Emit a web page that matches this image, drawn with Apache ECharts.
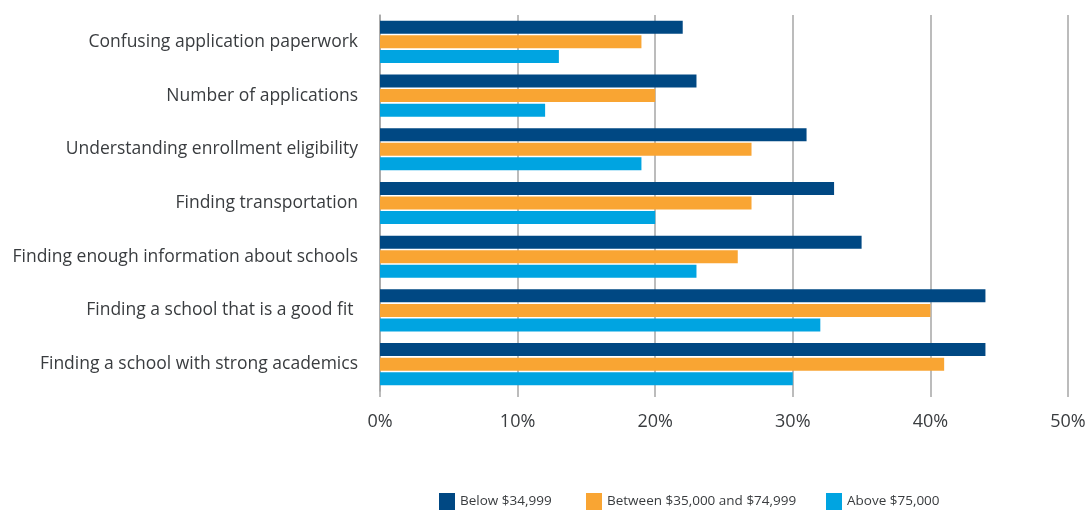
<!DOCTYPE html>
<html>
<head>
<meta charset="utf-8">
<script src="https://cdn.jsdelivr.net/npm/echarts@6/dist/echarts.min.js"></script>
<style>
  html, body { margin: 0; padding: 0; background: #fff; }
  #chart { width: 1091px; height: 510px; }
</style>
</head>
<body>
<div id="chart"></div>
<script>
// Barriers to school enrollment, share of families by household income
const categories = [
  'Confusing application paperwork',
  'Number of applications',
  'Understanding enrollment eligibility',
  'Finding transportation',
  'Finding enough information about schools',
  'Finding a school that is a good fit ',
  'Finding a school with strong academics'
];
const seriesNames = ['Below $34,999', 'Between $35,000 and $74,999', 'Above $75,000'];
const belowValues   = [22, 23, 31, 33, 35, 44, 44];
const betweenValues = [19, 20, 27, 27, 26, 40, 41];
const aboveValues   = [13, 12, 19, 20, 23, 32, 30];
const seriesColors = ['#004883', '#F9A533', '#00A4E1'];
const xTicks = [0, 10, 20, 30, 40, 50];

const font = 'Open Sans, Lato, sans-serif';
const textColor = '#393c3f';
const gridColor = '#a6a6a6';

const chart = echarts.init(document.getElementById('chart'));

function legendFor(i, left) {
  return {
    data: [seriesNames[i]],
    left: left,
    bottom: 0,
    itemWidth: 16,
    itemHeight: 17,
    itemGap: 0,
    padding: [0, 0, 0, 0],
    icon: 'rect',
    textStyle: { fontFamily: font, fontSize: 13.5, color: textColor }
  };
}

chart.setOption({
  animation: false,
  legend: [legendFor(0, 439), legendFor(1, 586), legendFor(2, 826)],
  grid: { left: 380, right: 23, top: 15, bottom: 119, containLabel: false },
  xAxis: {
    type: 'value',
    min: xTicks[0],
    max: xTicks[xTicks.length - 1],
    interval: 10,
    axisLine: { show: false },
    axisTick: { show: true, length: 6, lineStyle: { color: gridColor, width: 1.5 } },
    splitLine: { show: true, lineStyle: { color: gridColor, width: 1.5 } },
    axisLabel: {
      formatter: v => v + '%',
      fontFamily: font,
      fontSize: 18,
      color: textColor,
      margin: 22
    }
  },
  yAxis: {
    type: 'category',
    data: categories,
    inverse: true,
    axisLine: { show: true, lineStyle: { color: gridColor, width: 1.5 } },
    axisTick: { show: false },
    axisLabel: {
      fontFamily: font,
      fontSize: 17.5,
      color: textColor,
      margin: 22
    }
  },
  series: [belowValues, betweenValues, aboveValues].map((vals, i) => ({
    name: seriesNames[i],
    type: 'bar',
    data: vals,
    barWidth: 13,
    barGap: '12%',
    itemStyle: { color: seriesColors[i] }
  }))
});
</script>
</body>
</html>
